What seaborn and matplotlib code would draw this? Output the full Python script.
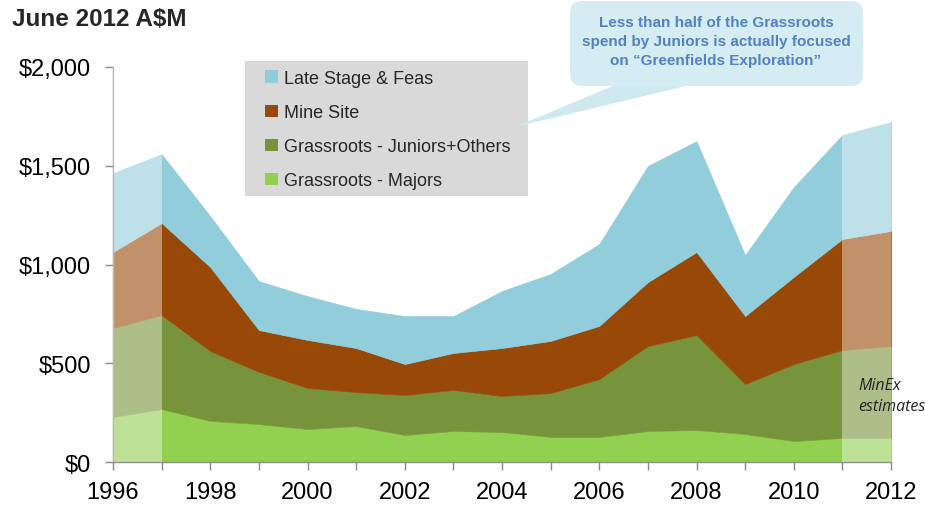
import pandas as pd
import matplotlib.pyplot as plt
import seaborn as sns
from matplotlib.patches import Patch, FancyBboxPatch, Polygon, Rectangle

# Exploration spend by category, June 2012 A$M
years = list(range(1996, 2013))
majors = [228, 268, 208, 192, 167, 182, 137, 157, 152, 127, 127, 157, 162, 142, 106, 122, 122]
juniors = [450, 476, 354, 264, 208, 172, 202, 208, 182, 222, 293, 430, 481, 253, 390, 445, 465]
mine_site = [385, 466, 425, 212, 243, 223, 157, 187, 243, 264, 269, 324, 420, 344, 441, 562, 583]
late_stage = [400, 349, 258, 248, 222, 198, 243, 187, 289, 339, 415, 588, 562, 309, 455, 527, 552]

series_names = ['Grassroots - Majors', 'Grassroots - Juniors+Others', 'Mine Site', 'Late Stage & Feas']
series_colors = ['#92D050', '#77933C', '#984807', '#92CDDC']
estimate_spans = [(1996, 1997), (2011, 2012)]
y_ticks = [0, 500, 1000, 1500, 2000]

callout_text = ('Less than half of the Grassroots\n'
                'spend by Juniors is actually focused\n'
                'on \u201cGreenfields Exploration\u201d')

sns.set_theme(style='ticks')
plt.rcParams['font.family'] = ['Liberation Sans', 'DejaVu Sans']

df = pd.DataFrame({
    'Year': years,
    'Grassroots - Majors': majors,
    'Grassroots - Juniors+Others': juniors,
    'Mine Site': mine_site,
    'Late Stage & Feas': late_stage,
}).set_index('Year')

W, H = 925, 506
fig = plt.figure(figsize=(W / 100, H / 100), dpi=100)
ax = fig.add_axes([113 / W, 1 - 463 / H, 778 / W, 395 / H])

ax.stackplot(df.index, [df[c] for c in series_names], colors=series_colors,
             edgecolor='face', linewidth=0.4)

# faded overlay for the estimate years
for x0, x1 in estimate_spans:
    ax.axvspan(x0, x1, color='white', alpha=0.4, lw=0, zorder=3)

ax.set_xlim(1996, 2012)
ax.set_ylim(0, 2000)
ax.set_xticks(years)
ax.set_xticklabels([str(y) if y % 2 == 0 else '' for y in years])
ax.set_yticks(y_ticks)
ax.set_yticklabels(['${:,}'.format(v) for v in y_ticks])
ax.tick_params(axis='both', length=6, width=1, color='#8C8C8C', labelsize=17, labelcolor='black')
ax.tick_params(axis='x', pad=8)
ax.tick_params(axis='y', pad=10)
for s in ['top', 'right']:
    ax.spines[s].set_visible(False)
for s in ['left', 'bottom']:
    ax.spines[s].set_color('#8C8C8C')
    ax.spines[s].set_linewidth(1)
ax.set_xlabel('')
ax.set_ylabel('')

fig.text(12 / W, 1 - 20 / H, 'June 2012 A$M', fontsize=17.5, fontweight='bold', va='center', ha='left')


def inch(x, y):
    return (x / 100, (H - y) / 100)


# legend: grey panel + frameless legend on top
lx, ly = inch(245, 197)
fig.add_artist(Rectangle((lx, ly), 2.83, 1.35, transform=fig.dpi_scale_trans,
                         facecolor='#D9D9D9', edgecolor='none', zorder=4))
handles = [Patch(facecolor=c, edgecolor='none', label=n)
           for n, c in zip(series_names[::-1], series_colors[::-1])]
leg = fig.legend(handles=handles, loc='upper left', bbox_to_anchor=(265 / W, 1 - 71 / H),
                 frameon=False, fontsize=13, handlelength=0.7, handleheight=0.7,
                 handletextpad=0.35, labelspacing=0.95, borderpad=0, borderaxespad=0)
leg.set_zorder(5)

# callout bubble
tail = Polygon([inch(615, 86), inch(690, 86), inch(515, 128)], closed=True,
               transform=fig.dpi_scale_trans, facecolor='#CFE9F1', edgecolor='none', zorder=6)
fig.add_artist(tail)
bx, by = inch(570, 87)
bubble = FancyBboxPatch((bx, by), 2.93, 0.85, boxstyle='round,pad=0,rounding_size=0.12',
                        transform=fig.dpi_scale_trans, facecolor='#D5ECF3', edgecolor='none', zorder=6)
fig.add_artist(bubble)
fig.text(716 / W, 1 - 42 / H, callout_text, ha='center', va='center', fontsize=11,
         fontweight='bold', color='#5181BE', linespacing=1.45, zorder=7)

ax.text(2011.33, 337, 'MinEx\nestimates', fontsize=11.5, style='italic', family='Open Sans',
        color='#222222', va='center', ha='left', linespacing=1.35, clip_on=False, zorder=5)

fig.savefig('out.png', dpi=100)
